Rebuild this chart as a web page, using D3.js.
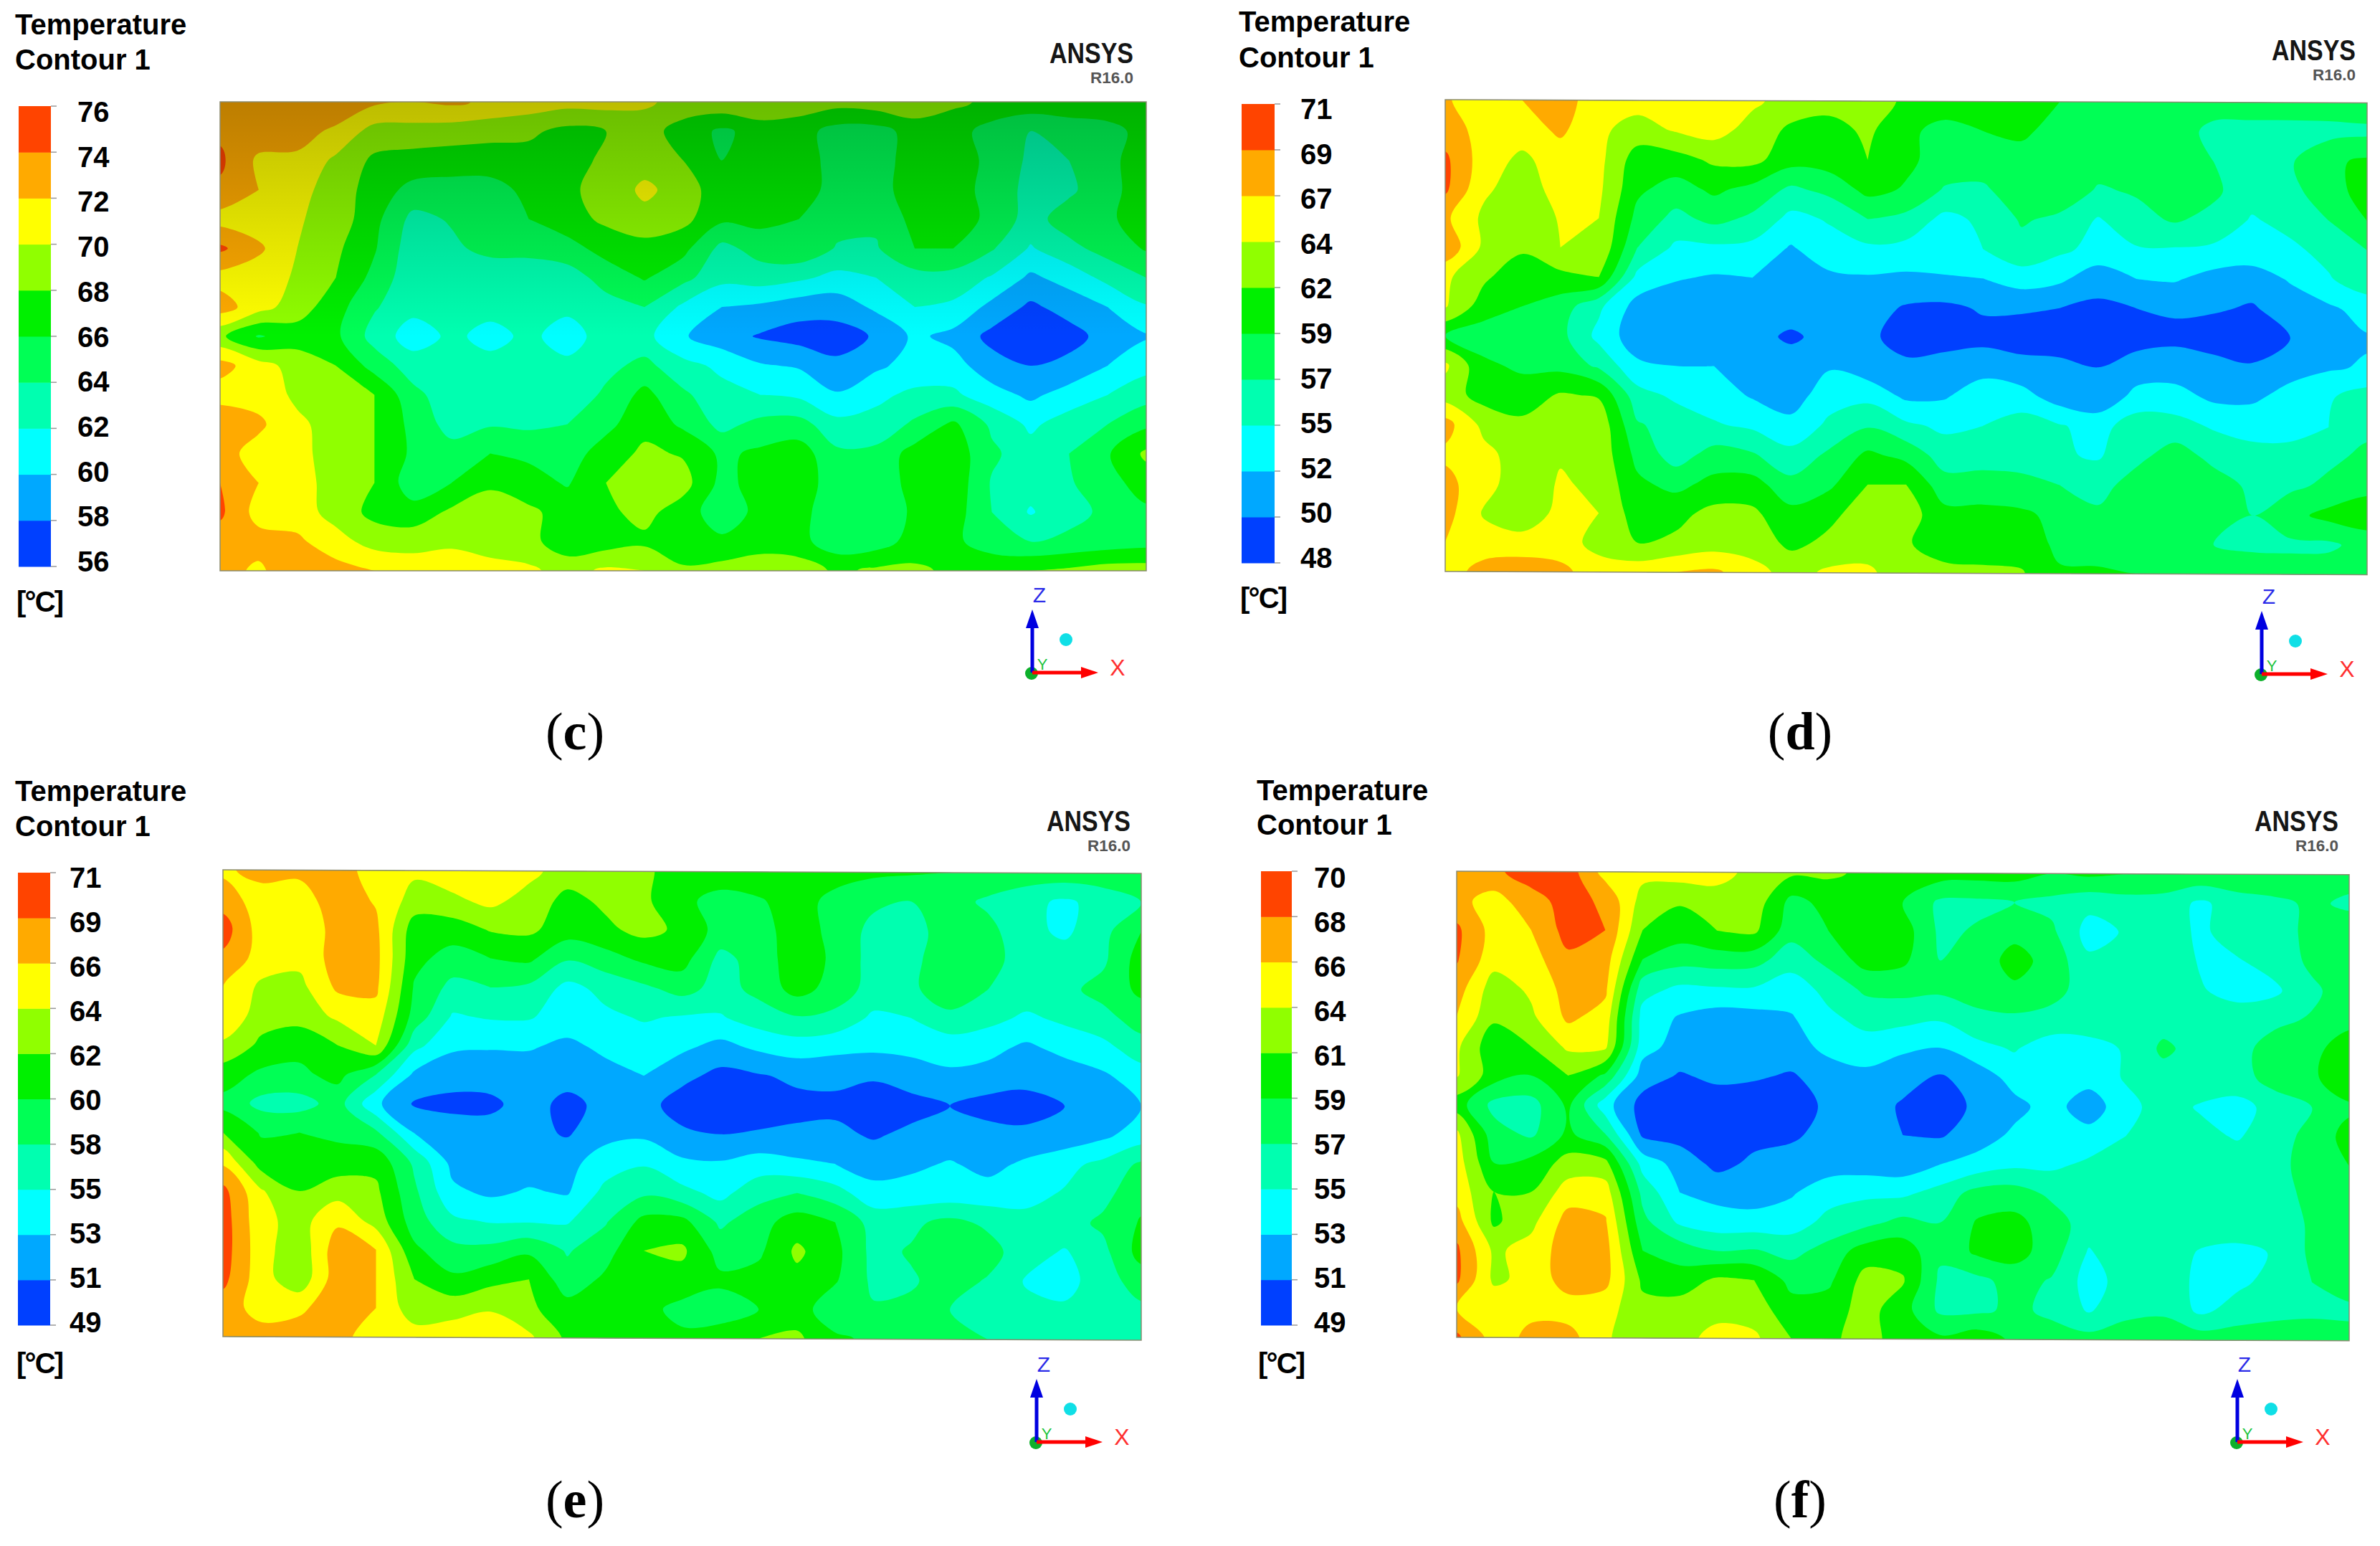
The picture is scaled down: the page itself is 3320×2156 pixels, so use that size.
<!DOCTYPE html>
<html>
<head>
<meta charset="utf-8">
<title>Temperature contours</title>
<style>
body { margin: 0; background: #fff; }
text { font-family: "Liberation Sans", Arial, sans-serif; }
</style>
</head>
<body>
<svg id="chart" width="3320" height="2156"></svg>
<script src="https://cdnjs.cloudflare.com/ajax/libs/d3/7.8.5/d3.min.js"></script>
<script>
// legend bands, bottom to top
var bandColors = ['#0040ff','#00a8ff','#00ffff','#00ffb0','#00ff55','#00f000','#90ff00','#ffff00','#ffaa00','#ff4400']

var ticksC = [56,58,60,62,64,66,68,70,72,74,76]
var ticksD = [48,50,52,55,57,59,62,64,67,69,71]
var ticksE = [49,51,53,55,58,60,62,64,66,69,71]
var ticksF = [49,51,53,55,57,59,61,64,66,68,70]

// temperature, as percent of each panel's legend range
var gridC = [
[85,85,88,88,82,80,82,78,76,74,74,72,66,68,70,66,64,66,68,62,58,57,57,58,56],
[88,86,84,78,66,66,65,64,62,57,60,64,56,48,54,54,46,46,54,54,46,40,44,46,54],
[92,78,78,68,58,56,55,54,56,56,62,66,60,50,55,55,46,46,54,54,48,38,40,48,54],
[88,80,73,66,55,47,46,47,52,58,64,72,66,53,56,55,46,46,55,55,46,37,38,47,55],
[76,74,71,66,53,37,41,46,50,56,62,67,63,52,53,50,44,42,53,56,47,36,45,48,56],
[92,82,70,62,51,34,38,43,43,46,54,56,53,37,44,48,39,39,50,50,41,29,37,44,51],
[76,74,69,60,47,33,32,33,34,35,44,51,43,33,35,32,27,30,36,36,29,18,24,33,40],
[85,74,65,54,41,33,34,33,32,32,36,40,28,20,18,14,14,22,30,28,17,8,14,20,29],
[62,49,55,52,36,25,32,27,32,26,34,33,21,14,9,6,6,11,22,17,7,4,6,14,19],
[84,74,66,60,46,35,33,33,33,32,37,43,33,28,21,19,12,18,24,24,14,10,13,20,27],
[75,76,68,64,60,43,34,33,32,33,42,53,42,33,30,28,21,28,32,32,24,18,24,30,36],
[90,82,72,66,60,47,36,39,38,40,47,57,48,37,43,44,33,33,42,52,38,28,35,40,48],
[84,76,72,67,60,48,44,50,48,45,55,62,59,48,52,55,42,43,54,56,42,34,40,49,62],
[90,80,73,67,60,44,50,58,54,49,60,68,64,47,54,57,43,43,54,57,39,34,39,46,55],
[92,76,75,66,57,54,62,66,62,56,58,63,55,44,53,54,42,42,52,55,40,29,37,42,48],
[85,84,82,74,66,66,68,65,63,54,55,58,52,52,54,53,44,45,54,52,45,40,42,44,46],
[84,78,88,84,80,76,76,74,72,66,72,70,62,64,68,66,58,62,62,58,57,60,62,65,65]
]

var gridD = [
[81,75,80,85,74,74,75,80,72,66,64,66,58,55,55,55,50,48,47,46,45,46,46,45,45],
[84,77,75,82,72,66,71,74,66,58,56,62,52,47,50,52,46,46,45,45,37,36,36,37,38],
[92,75,68,75,73,55,56,62,63,54,55,60,52,46,46,46,46,44,44,45,40,33,39,48,52],
[92,72,65,74,72,52,46,52,47,38,43,53,49,39,38,47,46,39,41,46,42,34,36,48,52],
[82,68,62,71,70,47,37,43,38,27,31,40,37,27,32,41,38,29,37,41,37,29,33,40,50],
[88,68,62,70,69,40,28,28,27,19,26,28,27,27,30,37,32,27,29,29,28,27,28,33,40],
[72,62,53,57,60,27,21,19,20,13,18,19,18,19,20,25,22,14,20,21,16,14,21,29,36],
[71,55,50,45,32,16,14,14,14,13,14,14,9,8,11,11,10,8,10,11,11,9,14,18,24],
[50,45,43,43,27,14,13,13,12,9,12,12,6,6,7,6,6,4,6,8,5,5,10,14,19],
[72,52,48,47,38,22,20,20,19,13,19,14,12,14,16,13,12,10,15,15,14,11,16,19,21],
[65,56,55,61,59,34,28,25,19,15,26,27,18,19,26,24,15,13,23,24,18,18,24,29,35],
[84,67,62,66,67,41,36,31,28,23,32,39,32,28,30,35,31,26,36,34,29,27,27,30,38],
[78,73,65,69,67,47,35,44,41,33,42,52,47,35,38,37,31,29,37,45,37,33,33,38,42],
[83,74,64,71,68,52,47,53,54,43,48,60,60,44,42,42,40,36,45,47,45,38,38,42,47],
[84,69,63,73,70,55,57,63,62,53,58,64,65,53,54,52,47,42,47,47,45,40,47,53,56],
[80,74,74,74,67,60,62,65,65,58,62,65,61,55,55,55,48,47,46,45,40,38,38,38,44],
[75,84,86,83,74,76,80,82,74,66,72,72,64,63,62,61,51,51,50,50,45,46,45,46,46]
]

var gridE = [
[78,84,82,85,75,72,76,77,73,65,63,62,55,55,56,56,54,52,51,50,48,46,46,46,46],
[85,75,76,85,79,66,68,73,66,57,62,62,52,47,49,54,47,42,40,44,38,33,28,34,40],
[95,75,74,83,82,55,55,61,62,55,58,63,58,46,46,55,47,37,37,44,43,33,28,37,50],
[88,76,73,84,83,53,46,50,52,41,46,52,54,37,44,56,48,36,38,45,43,36,35,38,55],
[80,68,67,82,82,49,37,40,38,27,33,38,44,36,43,54,46,36,38,47,40,36,37,44,52],
[80,64,64,72,76,46,29,31,31,25,28,31,29,29,35,39,37,28,30,37,33,28,32,36,45],
[68,58,53,60,70,33,22,21,21,18,22,25,22,17,22,25,23,22,23,24,23,18,23,27,35],
[55,48,48,53,40,18,13,14,15,14,17,20,13,7,9,12,12,11,14,18,16,14,14,18,25],
[47,37,36,44,22,9,8,8,14,7,13,14,5,4,5,7,8,5,7,10,6,5,10,14,20],
[60,49,50,48,42,20,14,14,13,9,17,18,12,10,11,12,12,9,12,14,14,13,14,18,25],
[78,55,55,54,57,38,17,15,15,17,25,29,22,21,25,22,20,15,18,21,17,22,27,33,42],
[93,71,60,66,62,42,22,18,21,19,33,38,33,27,36,40,34,24,24,24,24,27,31,37,47],
[95,73,66,78,66,45,32,29,29,29,39,53,53,38,46,55,50,36,38,43,38,33,36,42,51],
[95,74,63,86,80,52,43,43,48,39,46,60,62,46,48,62,53,37,41,50,44,34,29,37,54],
[93,74,63,86,80,60,52,57,60,44,52,58,56,52,54,57,51,38,39,44,39,29,26,36,44],
[85,76,78,86,80,64,66,69,62,54,52,53,47,45,50,55,43,41,42,40,35,33,32,35,38],
[84,84,85,85,72,75,76,78,72,58,58,56,52,55,60,62,52,48,48,46,40,38,38,38,38]
]

var gridF = [
[90,88,95,95,76,73,75,75,66,62,62,58,56,55,54,54,50,52,50,48,48,48,50,46,44],
[83,76,86,94,88,66,61,64,66,47,53,55,50,38,38,40,37,33,36,36,28,35,37,42,38],
[92,76,80,94,90,60,55,60,62,44,50,56,55,38,41,47,42,26,31,36,28,35,35,43,46],
[91,74,76,88,85,50,44,45,44,34,43,54,52,40,44,54,46,32,37,38,29,29,34,42,45],
[85,65,72,84,82,34,28,29,29,25,33,42,43,42,45,48,43,36,37,37,31,26,28,38,45],
[80,62,68,82,76,26,19,15,16,19,28,33,33,31,37,38,37,36,36,36,36,36,38,41,48],
[72,53,60,72,72,24,16,15,14,15,23,26,22,20,27,31,24,26,31,42,36,37,44,48,54],
[71,55,50,60,48,15,9,12,11,9,14,17,13,9,14,24,23,24,31,36,36,35,45,48,58],
[55,37,36,52,24,6,5,5,5,5,12,14,9,5,12,17,24,14,27,34,29,27,33,40,48],
[72,44,38,52,40,8,6,5,7,8,14,14,10,9,15,22,25,24,30,35,33,29,36,43,54],
[75,50,53,64,63,26,16,7,12,15,15,15,14,20,24,28,28,32,36,37,36,36,37,44,50],
[76,60,60,75,75,37,20,17,15,19,26,28,28,34,44,45,38,37,37,36,37,37,37,42,46],
[84,58,67,84,81,43,28,24,24,25,33,37,43,40,51,53,45,35,36,36,36,38,36,41,44],
[92,68,74,85,84,50,46,40,41,37,44,55,56,42,52,54,45,29,37,36,29,26,31,42,45],
[92,68,73,85,83,58,54,62,60,47,48,64,61,38,37,44,39,26,34,37,27,28,33,40,44],
[80,77,78,75,74,63,65,66,65,54,55,64,54,38,38,42,38,29,37,38,28,34,36,38,38],
[92,76,82,84,71,65,66,74,72,60,58,64,55,52,56,48,44,44,46,48,46,46,48,46,44]
]

var panels = [
  {name:'c', grid:gridC, ticks:ticksC, plot:[307,1599,142,796], tilt:0, titleX:21, titleY:[48,97], bar:[26,71,148,790], labelX:108, labelY:[156,783], unitY:853, logoX:1581, logoY:[88,116], triad:[1440,938], capX:802, capY:1045, shade:true},
  {name:'d', grid:gridD, ticks:ticksD, plot:[2016,3302,139,797], tilt:0.2, titleX:1728, titleY:[44,94], bar:[1732,1778,145,785], labelX:1814, labelY:[152,778], unitY:848, logoX:3286, logoY:[84,112], triad:[3155,940], capX:2511, capY:1045},
  {name:'e', grid:gridE, ticks:ticksE, plot:[311,1592,1213,1864], tilt:0.22, titleX:21, titleY:[1117,1166], bar:[25,70,1217,1848], labelX:97, labelY:[1224,1844], unitY:1915, logoX:1577, logoY:[1159,1187], triad:[1446,2011], capX:802, capY:2116},
  {name:'f', grid:gridF, ticks:ticksF, plot:[2032,3277,1215,1865], tilt:0.22, titleX:1753, titleY:[1116,1164], bar:[1759,1802,1215,1848], labelX:1833, labelY:[1224,1844], unitY:1915, logoX:3262, logoY:[1159,1187], triad:[3121,2011], capX:2511, capY:2116}
]

var svg = d3.select('#chart')
var defs = svg.append('defs')

var shade = defs.append('linearGradient').attr('id','shade').attr('x1',0).attr('y1',0).attr('x2',0).attr('y2',1)
shade.append('stop').attr('offset','0%').attr('stop-color','#000').attr('stop-opacity',0.26)
shade.append('stop').attr('offset','50%').attr('stop-color','#000').attr('stop-opacity',0)

var thresholds = d3.range(0, 100, 10)
var ringLine = d3.line().curve(d3.curveCatmullRomClosed.alpha(0.5))

panels.forEach(function(p, idx) {
  var rows = p.grid.length, cols = p.grid[0].length
  p.grid.forEach(function(r, i) {
    if (r.length != cols) throw new Error(p.name + ' row ' + i + ' has ' + r.length)
  })

  // repeat the border cells so contour smoothing happens outside the clip
  var padded = []
  for (var j = -1; j <= rows; j++) {
    var r = p.grid[Math.max(0, Math.min(rows - 1, j))]
    padded.push(r[0])
    r.forEach(function(v) { padded.push(v) })
    padded.push(r[cols - 1])
  }

  var x = d3.scaleLinear().domain([1.5, cols + 0.5]).range([p.plot[0], p.plot[1]])
  var y = d3.scaleLinear().domain([1.5, rows + 0.5]).range([p.plot[2], p.plot[3]])
  ringLine.x(function(d) { return x(d[0]) }).y(function(d) { return y(d[1]) })

  var contours = d3.contours().size([cols + 2, rows + 2]).thresholds(thresholds)(padded)

  defs.append('clipPath').attr('id', 'clip' + idx).append('rect')
    .attr('x', p.plot[0]).attr('y', p.plot[2])
    .attr('width', p.plot[1] - p.plot[0]).attr('height', p.plot[3] - p.plot[2])

  var plot = svg.append('g')
    .attr('transform', 'translate(' + p.plot[0] + ',0) skewY(' + p.tilt + ') translate(' + (-p.plot[0]) + ',0)')
  var inner = plot.append('g').attr('clip-path', 'url(#clip' + idx + ')')

  inner.selectAll('path').data(contours).enter().append('path')
    .attr('fill', function(d, i) { return bandColors[i] })
    .attr('fill-rule', 'evenodd')
    .attr('d', function(d) {
      return d.coordinates.map(function(poly) {
        return poly.map(function(ring) { return ringLine(ring.slice(0, -1)) }).join('')
      }).join('')
    })

  if (p.shade) {
    inner.append('rect').attr('x', p.plot[0]).attr('y', p.plot[2])
      .attr('width', p.plot[1] - p.plot[0]).attr('height', p.plot[3] - p.plot[2])
      .attr('fill', 'url(#shade)')
  }
  plot.append('rect').attr('x', p.plot[0]).attr('y', p.plot[2])
    .attr('width', p.plot[1] - p.plot[0]).attr('height', p.plot[3] - p.plot[2])
    .attr('fill', 'none').attr('stroke', '#8a8a70').attr('stroke-width', 1.5)

  // title
  var g = svg.append('g').attr('font-weight', 'bold').attr('fill', '#000').attr('font-size', 40)
  g.append('text').attr('x', p.titleX).attr('y', p.titleY[0]).text('Temperature')
  g.append('text').attr('x', p.titleX).attr('y', p.titleY[1]).text('Contour 1')

  // legend
  var n = p.ticks.length
  var barY = d3.scaleLinear().domain([0, n - 1]).range([p.bar[3], p.bar[2]])
  var labelY = d3.scaleLinear().domain([0, n - 1]).range([p.labelY[1], p.labelY[0]])
  svg.append('g').selectAll('rect').data(bandColors).enter().append('rect')
    .attr('x', p.bar[0]).attr('width', p.bar[1] - p.bar[0])
    .attr('y', function(d, i) { return barY(i + 1) })
    .attr('height', function(d, i) { return barY(i) - barY(i + 1) + 0.5 })
    .attr('fill', function(d) { return d })
  svg.append('g').selectAll('line').data(p.ticks).enter().append('line')
    .attr('x1', p.bar[1]).attr('x2', p.bar[1] + 8)
    .attr('y1', function(d, i) { return barY(i) }).attr('y2', function(d, i) { return barY(i) })
    .attr('stroke', '#999').attr('stroke-width', 1.5)
  g.selectAll('text.tick').data(p.ticks).enter().append('text').attr('class', 'tick')
    .attr('x', p.labelX).attr('y', function(d, i) { return labelY(i) + 14 })
    .text(function(d) { return d })
  g.append('text').attr('x', p.titleX + 2).attr('y', p.unitY).attr('textLength', 66).text('[°C]')

  // logo
  svg.append('text').attr('x', p.logoX).attr('y', p.logoY[0]).attr('text-anchor', 'end')
    .attr('font-size', 41).attr('font-weight', 'bold').attr('fill', '#151515')
    .attr('textLength', 117).attr('lengthAdjust', 'spacingAndGlyphs').text('ANSYS')
  svg.append('text').attr('x', p.logoX).attr('y', p.logoY[1]).attr('text-anchor', 'end')
    .attr('font-size', 22).attr('font-weight', 'bold').attr('fill', '#555')
    .attr('textLength', 60).attr('lengthAdjust', 'spacingAndGlyphs').text('R16.0')

  // axis triad
  var t = svg.append('g').attr('transform', 'translate(' + p.triad[0] + ',' + p.triad[1] + ')')
  t.append('circle').attr('cx', -1).attr('cy', 1).attr('r', 9).attr('fill', '#0db02b')
  t.append('line').attr('x1', 0).attr('y1', 0).attr('x2', 0).attr('y2', -70).attr('stroke', '#0000e0').attr('stroke-width', 5)
  t.append('path').attr('d', 'M0,-88L9,-62L-9,-62Z').attr('fill', '#0000e0')
  t.append('line').attr('x1', 0).attr('y1', 0).attr('x2', 72).attr('y2', 0).attr('stroke', '#ff0000').attr('stroke-width', 5)
  t.append('path').attr('d', 'M92,0L68,-8L68,8Z').attr('fill', '#ff0000')
  t.append('circle').attr('cx', 47).attr('cy', -46).attr('r', 9).attr('fill', '#10dfe6')
  t.append('text').attr('x', 10).attr('y', -98).attr('text-anchor', 'middle').attr('font-size', 30).attr('fill', '#2a2ae8').text('Z')
  t.append('text').attr('x', 119).attr('y', 4).attr('text-anchor', 'middle').attr('font-size', 32).attr('fill', '#ff3030').text('X')
  t.append('text').attr('x', 14).attr('y', -4).attr('text-anchor', 'middle').attr('font-size', 22).attr('fill', '#1cc43c').text('Y')

  // caption: thin brackets, bold letter
  var cap = svg.append('text').attr('x', p.capX).attr('y', p.capY).attr('text-anchor', 'middle')
    .attr('font-size', 74).attr('fill', '#000')
    .style('font-family', '"Liberation Serif", serif')
  cap.append('tspan').text('(')
  cap.append('tspan').attr('font-weight', 'bold').text(p.name)
  cap.append('tspan').text(')')
})
</script>
</body>
</html>
